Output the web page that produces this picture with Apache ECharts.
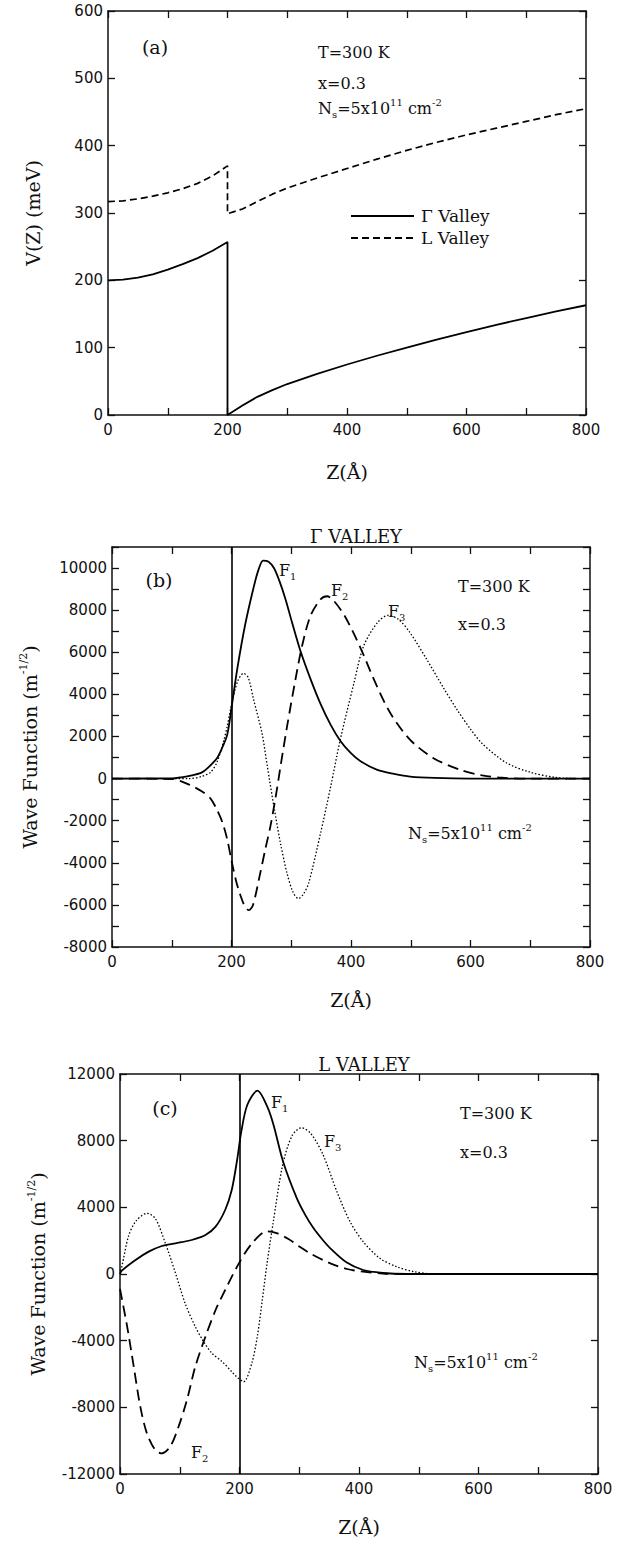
<!DOCTYPE html>
<html>
<head>
<meta charset="utf-8">
<script src="https://cdn.jsdelivr.net/npm/echarts@6/dist/echarts.min.js"></script>
<style>
html,body{margin:0;padding:0;background:#ffffff;}
#chart{width:630px;height:1543px;}
</style>
</head>
<body>
<div id="chart"></div>
<script>
// ---------- Panel (a): potential profile V(Z) ----------
const aGammaZ = [0,25,50,75,100,125,150,175,200,200,225,250,275,300,350,400,450,500,550,600,650,700,750,800];
const aGammaV = [200,201,204,209,216,224,233,244,257,0,14,27,37,46,61,75,88,100,112,123,134,144,154,163];
const aLZ = [0,25,50,75,100,125,150,175,200,200,225,250,275,300,350,400,450,500,550,600,650,700,750,800];
const aLV = [317,318,321,325,330,336,344,355,370,299,306,317,328,337,352,366,380,393,405,416,426,436,446,455];

// ---------- Panel (b): Gamma valley wave functions ----------
const bF1Z = [0,100,116,130,149,160,176,185,193,200,210,223,237,245,253,262,271,280,290,301,315,332,349,366,382,399,416,444,472,499,540,600,800];
const bF1V = [0,10,60,130,270,500,980,1500,2100,3360,5270,7330,9080,9900,10350,10300,10000,9400,8550,7450,6100,4750,3550,2550,1800,1230,820,414,224,95,30,0,0];
const bF2Z = [0,100,116,130,150,165,176,185,193,200,208,215,222,229,236,248,257,265,274,282,293,307,318,332,349,360,371,390,416,440,466,499,538,583,620,653,700,800];
const bF2V = [0,-20,-130,-300,-600,-950,-1500,-2100,-2900,-3900,-4900,-5550,-6050,-6250,-6000,-4505,-3300,-2286,-857,571,2476,4700,6286,7714,8510,8660,8450,7700,6200,4600,3100,1840,970,414,150,40,0,0];
const bF3Z = [0,130,150,165,176,187,193,200,210,220,228,237,251,260,271,282,293,303,312,320,329,349,366,382,405,421,444,462,480,499,527,555,578,600,620,660,700,741,781,800];
const bF3V = [0,0,100,300,800,1800,2500,3500,4600,5000,4800,3748,2162,571,-1333,-3076,-4505,-5400,-5700,-5500,-4981,-2600,-381,1843,4543,6286,7400,7750,7550,6920,5650,4300,3250,2350,1650,750,300,60,0,0];

// ---------- Panel (c): L valley wave functions ----------
const cF1Z = [0,3,26,48,70,93,120,143,160,176,187,196,203,213,230,247,257,273,296,310,324,338,352,379,407,440,480,800];
const cF1V = [0,200,840,1340,1680,1840,2040,2340,2840,3840,5040,6840,8540,10140,11000,10000,8940,6740,4540,3550,2740,2100,1540,700,240,60,0,0];
const cF2Z = [0,12,23,34,45,59,70,84,98,112,126,143,160,176,199,221,246,262,282,300,320,352,380,407,440,470,800];
const cF2V = [-900,-3160,-5560,-7960,-9560,-10560,-10760,-10360,-9160,-7560,-5560,-3760,-2160,-960,640,1840,2560,2450,2100,1650,1200,640,300,140,30,0,0];
const cF3Z = [0,3,14,26,45,59,76,93,109,126,140,154,171,187,198,207,221,230,238,246,256,272,288,304,320,340,363,385,407,435,463,492,526,800];
const cF3V = [200,440,2240,3140,3640,3340,1840,40,-1760,-3160,-4060,-4760,-5260,-5860,-6260,-6460,-5300,-3700,-1600,600,3000,6500,8300,8780,8400,7140,4940,3140,1940,940,440,140,0,0];

// well edge (heterointerface) position
const wellEdgeZ = 200;

// tick label lists
const zTicks = [0,200,400,600,800];

function zip(xs, ys){ return xs.map((x,i)=>[x, ys[i]]); }

const chart = echarts.init(document.getElementById('chart'), null, {renderer:'svg'});

const BLACK = '#111';
const tickFont = {fontFamily:'DejaVu Sans', fontSize:15, color:BLACK};
const serif = 'DejaVu Serif';

function xAxes(gi, nameGap){
  const base = {
    type:'value', gridIndex:gi, min:0, max:800, interval:100,
    axisLine:{show:true, onZero:false, lineStyle:{color:BLACK, width:1.5}},
    axisTick:{show:true, inside:true, length:7, lineStyle:{color:BLACK, width:1.3}},
    splitLine:{show:false}
  };
  return [
    Object.assign({}, base, {
      position:'bottom',
      axisLabel:Object.assign({margin:7, formatter:v => (zTicks.indexOf(v) >= 0 ? String(v) : '')}, tickFont),
      name:'Z(Å)', nameLocation:'middle', nameGap:nameGap,
      nameTextStyle:{fontFamily:serif, fontSize:19, color:BLACK}
    }),
    Object.assign({}, base, {position:'top', axisLabel:{show:false}})
  ];
}

function yAxes(gi, min, max, interval, labelEvery, name, nameGap, rich){
  const base = {
    type:'value', gridIndex:gi, min:min, max:max, interval:interval,
    axisLine:{show:true, onZero:false, lineStyle:{color:BLACK, width:1.5}},
    axisTick:{show:true, inside:true, length:7, lineStyle:{color:BLACK, width:1.3}},
    splitLine:{show:false}
  };
  return [
    Object.assign({}, base, {
      position:'left',
      axisLabel:Object.assign({margin:5, formatter:v => (v % labelEvery === 0 ? String(v) : '')}, tickFont),
      name:name, nameLocation:'middle', nameGap:nameGap,
      nameTextStyle:{fontFamily:serif, fontSize:19, color:BLACK, rich:rich || {}}
    }),
    Object.assign({}, base, {position:'right', axisLabel:{show:false}})
  ];
}

const supRich = {
  sup:{fontFamily:serif, fontSize:11, color:BLACK, verticalAlign:'top', lineHeight:24, padding:[0,0,10,0]}
};

function lineSeries(name, xi, yi, xs, ys, style, smooth, extra){
  return Object.assign({
    type:'line', name:name, xAxisIndex:xi, yAxisIndex:yi,
    data:zip(xs, ys), showSymbol:false, symbol:'none', smooth:smooth,
    lineStyle:Object.assign({color:'#000'}, style),
    itemStyle:{color:'#000'},
    animation:false, z:3
  }, extra || {});
}

const solid = {width:1.8, type:'solid'};
const dashedA = {width:1.7, type:[7,4]};
const dashedB = {width:1.8, type:[11,6]};
const dotted = {width:1.3, type:[1.5,2]};

const vLine = {
  symbol:['none','none'], silent:true, animation:false,
  label:{show:false},
  lineStyle:{color:'#000', type:'solid', width:1.6},
  data:[{xAxis:wellEdgeZ}]
};

// rich text styles for annotations
const annRich = {
  n:{fontFamily:serif, fontSize:16, color:BLACK, lineHeight:22},
  sub:{fontFamily:serif, fontSize:10, color:BLACK, verticalAlign:'bottom', lineHeight:22, padding:[10,0,0,0]},
  sup:{fontFamily:serif, fontSize:10, color:BLACK, verticalAlign:'top', lineHeight:22, padding:[0,0,10,0]}
};

function txt(x, y, text, size, align){
  return {
    type:'text', x:x, y:y, silent:true, z:10,
    style:{
      text:text, fill:BLACK,
      font:(size||16) + 'px "' + serif + '"',
      fontFamily:serif, fontSize:size||16,
      textAlign:align||'left', textVerticalAlign:'middle',
      align:align||'left', verticalAlign:'middle',
      rich:annRich
    }
  };
}

const nsText = '{n|N}{sub|s}{n|=5x10}{sup|11}{n| cm}{sup|-2}';
function fLabel(i){ return '{n|F}{sub|' + i + '}'; }

const option = {
  backgroundColor:'#ffffff',
  animation:false,
  title:[
    {text:'Γ VALLEY', left:351, top:522, textAlign:'center',
     textStyle:{fontFamily:serif, fontSize:18, fontWeight:'normal', color:BLACK}},
    {text:'L VALLEY', left:359, top:1050, textAlign:'center',
     textStyle:{fontFamily:serif, fontSize:18, fontWeight:'normal', color:BLACK}}
  ],
  legend:{
    data:['Γ Valley','L Valley'],
    left:345, top:201, orient:'vertical',
    itemWidth:63, itemHeight:14, itemGap:2,
    itemStyle:{opacity:0, borderWidth:0},
    textStyle:{fontFamily:serif, fontSize:17, color:BLACK, lineHeight:20, padding:[0,0,0,2]},
    selectedMode:false
  },
  grid:[
    {left:108, right:44, top:11, height:404},
    {left:112, right:40, top:547, height:400},
    {left:120, right:32, top:1074, height:400}
  ],
  xAxis:[].concat(xAxes(0, 47), xAxes(1, 43), xAxes(2, 43)),
  yAxis:[].concat(
    yAxes(0, 0, 600, 100, 100, 'V(Z) (meV)', 66),
    yAxes(1, -8000, 11000, 1000, 2000, 'Wave Function (m{sup|-1/2})', 70, supRich),
    yAxes(2, -12000, 12000, 4000, 4000, 'Wave Function (m{sup|-1/2})', 70, supRich)
  ),
  series:[
    lineSeries('Γ Valley', 0, 0, aGammaZ, aGammaV, solid, false),
    lineSeries('L Valley', 0, 0, aLZ, aLV, dashedA, false),

    lineSeries('b F1', 2, 2, bF1Z, bF1V, solid, 0.3, {markLine:vLine}),
    lineSeries('b F2', 2, 2, bF2Z, bF2V, dashedB, 0.3),
    lineSeries('b F3', 2, 2, bF3Z, bF3V, dotted, 0.3),

    lineSeries('c F1', 4, 4, cF1Z, cF1V, solid, 0.3, {markLine:vLine}),
    lineSeries('c F2', 4, 4, cF2Z, cF2V, dashedB, 0.3),
    lineSeries('c F3', 4, 4, cF3Z, cF3V, dotted, 0.3)
  ],
  graphic:[
    // panel (a)
    txt(155, 47, '(a)', 19, 'center'),
    txt(318, 52, 'T=300 K', 16),
    txt(318, 83, 'x=0.3', 16),
    txt(318, 108, nsText),
    // panel (b)
    txt(159, 580, '(b)', 19, 'center'),
    txt(458, 586, 'T=300 K', 16),
    txt(458, 624, 'x=0.3', 16),
    txt(408, 833, nsText),
    txt(279, 570, fLabel(1)),
    txt(331, 590, fLabel(2)),
    txt(388, 611, fLabel(3)),
    // panel (c)
    txt(165, 1108, '(c)', 19, 'center'),
    txt(460, 1113, 'T=300 K', 16),
    txt(460, 1152, 'x=0.3', 16),
    txt(414, 1362, nsText),
    txt(271, 1102, fLabel(1)),
    txt(324, 1141, fLabel(3)),
    txt(191, 1452, fLabel(2))
  ]
};

chart.setOption(option);
</script>
</body>
</html>
